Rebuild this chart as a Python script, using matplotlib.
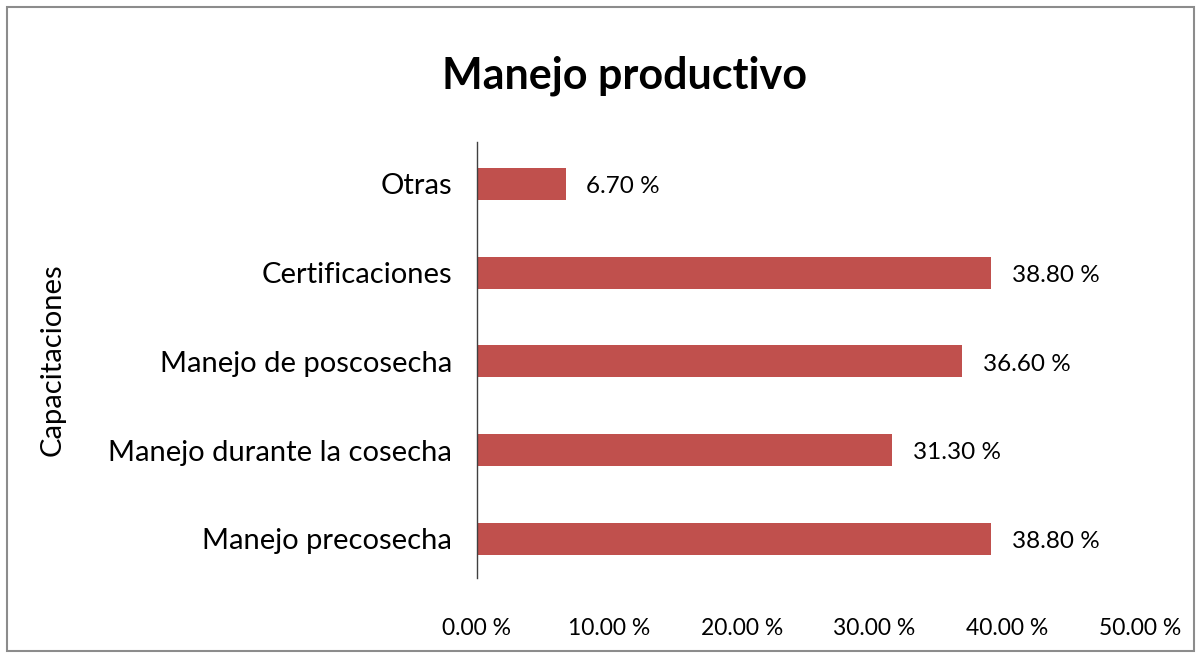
import matplotlib
matplotlib.use("Agg")
import matplotlib.pyplot as plt
from matplotlib.patches import Rectangle

categories = ["Manejo precosecha", "Manejo durante la cosecha", "Manejo de poscosecha",
              "Certificaciones", "Otras"]
values = [38.80, 31.30, 36.60, 38.80, 6.70]
xticks = [0, 10, 20, 30, 40, 50]

plt.rcParams['font.family'] = ['Lato', 'DejaVu Sans']

fig = plt.figure(figsize=(12.01, 6.59), dpi=100)
ax = fig.add_axes([0.397, 0.123, 0.552, 0.6615])

bars = ax.barh(range(len(categories)), values, height=0.36, color="#C0504D")
for i, v in enumerate(values):
    ax.annotate(f"{v:.2f} %", xy=(v, i), xytext=(15, -2), textcoords="offset points",
                va="center", ha="left", fontsize=17.5)

ax.set_xlim(0, 50)
ax.set_ylim(-0.44, 4.47)
ax.set_xticks(xticks)
ax.set_xticklabels([f"{t:.2f} %" for t in xticks], fontsize=16.5)
ax.set_yticks(range(len(categories)))
ax.set_yticklabels(categories, fontsize=21)
ax.tick_params(axis='x', length=0, pad=29)
ax.tick_params(axis='y', length=0, pad=18)
for s in ["top", "right", "bottom"]:
    ax.spines[s].set_visible(False)
ax.spines["left"].set_color("#404040")
ax.spines["left"].set_linewidth(1.0)

ax.set_ylabel("Capacitaciones", fontsize=21)
ax.yaxis.set_label_coords(-0.62, 0.5)

fig.text(0.52, 0.885, "Manejo productivo", ha="center", va="center",
         fontsize=31, fontweight="bold")

fig.patches.append(Rectangle((7/1201, 8/659), 1187/1201, 644/659, transform=fig.transFigure,
                             fill=False, edgecolor="#8c8c8c", linewidth=1.5))

fig.savefig("out.png", dpi=100)
